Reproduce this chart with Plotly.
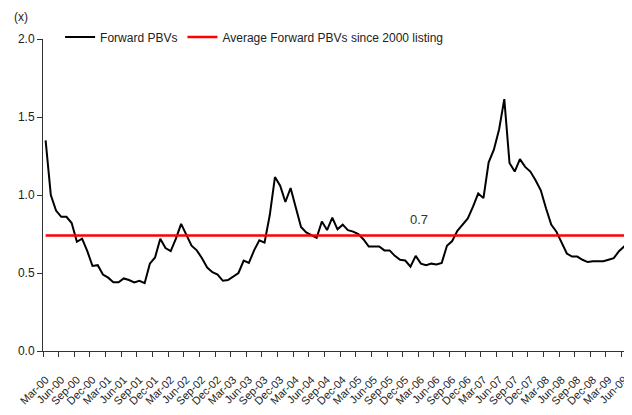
import plotly.graph_objects as go
import pandas as pd

# Monthly forward PBV values, Mar-00 .. Jul-09
forward_pbv = [
    1.35, 1.00, 0.90, 0.86, 0.86, 0.82, 0.70, 0.72, 0.64, 0.545,
    0.55, 0.49, 0.47, 0.44, 0.44, 0.465, 0.455, 0.44, 0.45, 0.435,
    0.56, 0.60, 0.72, 0.66, 0.64, 0.72, 0.815, 0.75, 0.675, 0.645,
    0.595, 0.535, 0.505, 0.49, 0.45, 0.455, 0.475, 0.50, 0.58, 0.565,
    0.645, 0.71, 0.695, 0.87, 1.115, 1.06, 0.955, 1.045, 0.92, 0.795,
    0.76, 0.74, 0.725, 0.83, 0.775, 0.855, 0.78, 0.81, 0.775, 0.765,
    0.75, 0.715, 0.67, 0.67, 0.67, 0.645, 0.645, 0.61, 0.585, 0.58,
    0.54, 0.61, 0.56, 0.55, 0.56, 0.555, 0.565, 0.675, 0.705, 0.77,
    0.81, 0.85, 0.925, 1.01, 0.98, 1.21, 1.29, 1.42, 1.615, 1.205,
    1.15, 1.23, 1.18, 1.15, 1.095, 1.03, 0.915, 0.81, 0.765, 0.70,
    0.625, 0.605, 0.605, 0.585, 0.57, 0.575, 0.575, 0.575, 0.585, 0.595,
    0.64, 0.67, 0.66,
]
average_pbv = 0.74
average_label = "0.7"

months = list(pd.date_range("2000-03-01", periods=len(forward_pbv), freq="MS").strftime("%b-%y"))

tick_labels = [
    "Mar-00", "Jun-00", "Sep-00", "Dec-00", "Mar-01", "Jun-01", "Sep-01", "Dec-01",
    "Mar-02", "Jun-02", "Sep-02", "Dec-02", "Mar-03", "Jun-03", "Sep-03", "Dec-03",
    "Mar-04", "Jun-04", "Sep-04", "Dec-04", "Mar-05", "Jun-05", "Sep-05", "Dec-05",
    "Mar-06", "Jun-06", "Sep-06", "Dec-06", "Mar-07", "Jun-07", "Sep-07", "Dec-07",
    "Mar-08", "Jun-08", "Sep-08", "Dec-08", "Mar-09", "Jun-09",
]

x_idx = list(range(len(forward_pbv)))
tick_pos = [months.index(lbl) for lbl in tick_labels]

FONT = "Liberation Sans, Arial, sans-serif"
TXT = "#222222"

fig = go.Figure()
fig.add_trace(go.Scatter(
    x=x_idx, y=forward_pbv, mode="lines", name="Forward PBVs",
    line=dict(color="black", width=2),
))
fig.add_trace(go.Scatter(
    x=x_idx, y=[average_pbv] * len(x_idx), mode="lines",
    name="Average Forward PBVs since 2000 listing",
    line=dict(color="#ff0000", width=2.5),
))

fig.add_annotation(x=71.6, y=0.846, text=average_label, showarrow=False,
                   xanchor="center", yanchor="middle",
                   font=dict(family=FONT, size=13, color="#333333"))
fig.add_annotation(x=-0.038, y=1.0705, xref="paper", yref="paper", text="(x)",
                   showarrow=False, xanchor="center", yanchor="middle",
                   font=dict(family=FONT, size=12, color=TXT))

# the page shows the figure with an 8px offset, so the figure is 8px smaller
fig.update_layout(
    width=624, height=407,
    margin=dict(l=35, r=0, t=31, b=64),
    plot_bgcolor="white", paper_bgcolor="white",
    font=dict(family=FONT, size=12, color=TXT),
    showlegend=True,
    legend=dict(orientation="h", x=0.029, y=1.0064, xanchor="left", yanchor="middle",
                font=dict(family=FONT, size=12, color=TXT),
                bgcolor="rgba(0,0,0,0)", tracegroupgap=0),
)
fig.update_xaxes(
    range=[-0.5, 112.5], showgrid=False, zeroline=False, automargin=False,
    showline=True, linecolor="#333333", linewidth=1,
    tickmode="array", tickvals=tick_pos, ticktext=tick_labels,
    ticks="", tickangle=-45, tickfont=dict(family=FONT, size=11, color=TXT),
    ticklabelstandoff=17,
    minor=dict(tick0=-0.5, dtick=3, ticks="outside", ticklen=5, tickcolor="#333333"),
)
fig.update_yaxes(
    range=[0, 2], showgrid=False, zeroline=False, automargin=False,
    showline=True, linecolor="#333333", linewidth=1,
    tickmode="array", tickvals=[0, 0.5, 1.0, 1.5, 2.0], tickformat=".1f",
    ticks="outside", ticklen=5, tickcolor="#333333",
    tickfont=dict(family=FONT, size=12, color=TXT),
)

fig.write_html("out.html")
